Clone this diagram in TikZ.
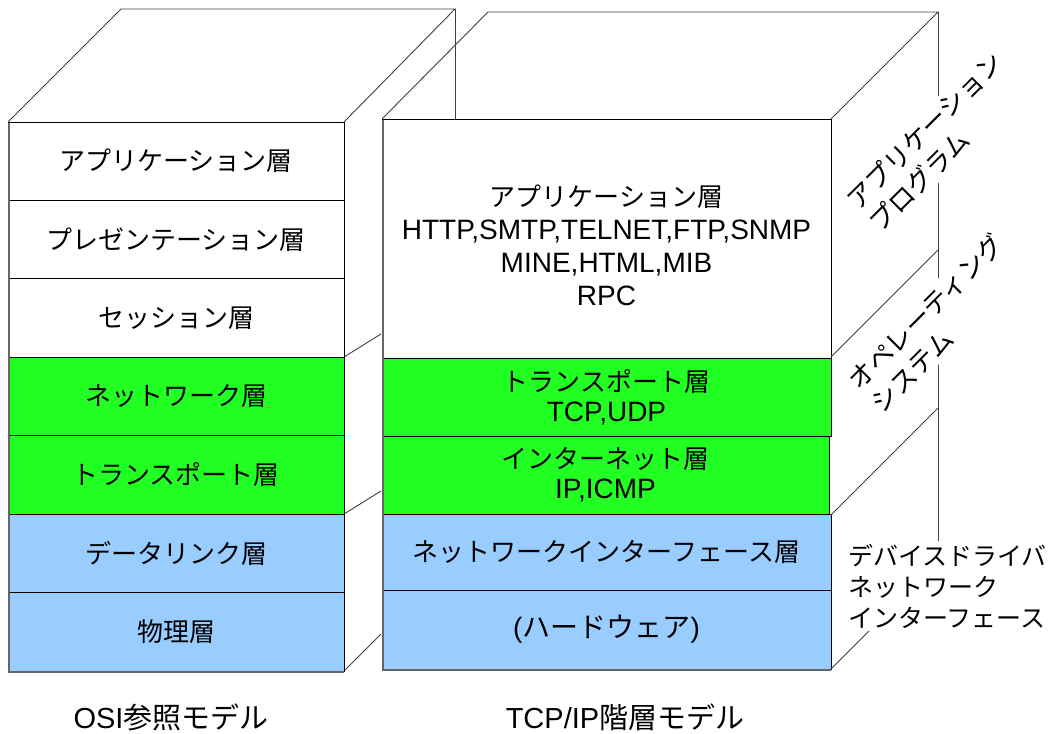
\documentclass[tikz,border=0pt]{standalone}
\usepackage{fontspec}
\setmainfont{Liberation Sans}
\newfontfamily\jp{Noto Sans CJK JP}
\definecolor{lgreen}{RGB}{34,255,34}
\definecolor{lblue}{RGB}{153,204,255}
\begin{document}
\begin{tikzpicture}[x=1pt,y=-1pt,
  edge/.style={draw=black!75,line width=0.9pt},
  layer/.style={draw=black,line width=0.8pt,inner sep=0pt,align=center},
  shadowline/.style={draw=black!60,line width=2pt},
  jt/.style={font=\jp\fontsize{26}{30}\selectfont},
  mixt/.style={font=\fontsize{28}{30}\selectfont,align=center,inner sep=0pt},
  sidelbl/.style={font=\jp\fontsize{26}{32}\selectfont,fill=white,inner sep=3pt,align=left,rotate=45},
  botlbl/.style={font=\fontsize{29}{32}\selectfont,inner sep=0pt,text height=22pt,text depth=2pt,anchor=base}
]
\useasboundingbox (0,0) rectangle (1056,733);
% ---- left box: top face and hidden parts
\draw[edge] (8,122) -- (121,9) -- (455,9) -- (344,122);
\draw[edge] (455,9) -- (455,119);
\draw[edge] (344,357) -- (381,334);
\draw[edge] (344,514) -- (381,491);
\draw[edge] (344,671) -- (381,634);
% ---- left box layers
\node[layer,fill=white,minimum width=336pt,minimum height=78.4pt,jt] (o7) at (176,161.2) {アプリケーション層};
\node[layer,fill=white,minimum width=336pt,minimum height=78.4pt,jt] (o6) at (176,239.6) {プレゼンテーション層};
\node[layer,fill=white,minimum width=336pt,minimum height=78.4pt,jt] (o5) at (176,318.0) {セッション層};
\node[layer,fill=lgreen,minimum width=336pt,minimum height=78.4pt,jt] (o4) at (176,396.5) {ネットワーク層};
\node[layer,fill=lgreen,minimum width=336pt,minimum height=78.4pt,jt] (o3) at (176,474.9) {トランスポート層};
\node[layer,fill=lblue,minimum width=336pt,minimum height=78.4pt,jt] (o2) at (176,553.3) {データリンク層};
\node[layer,fill=lblue,minimum width=336pt,minimum height=78.4pt,jt] (o1) at (176,631.8) {物理層};
\draw[shadowline] (9,123) -- (9,672) -- (344,672);
% ---- right box layers
\node[layer,fill=white,minimum width=449pt,minimum height=239pt] (ta) at (606.5,238.5) {};
\node[mixt,font=\fontsize{28}{33}\selectfont] (tat) at (606.5,245) {{\jp\fontsize{26}{33}\selectfont アプリケーション層}\\HTTP,SMTP,TELNET,FTP,SNMP\\MINE,HTML,MIB\\RPC};
\node[layer,fill=lgreen,minimum width=449pt,minimum height=78pt,font=\fontsize{28}{30}\selectfont] (tt) at (606.5,397) {{\jp\fontsize{26}{30}\selectfont トランスポート層}\\TCP,UDP};
\node[layer,fill=lgreen,minimum width=447pt,minimum height=78pt,font=\fontsize{28}{30}\selectfont] (ti) at (605.5,475) {{\jp\fontsize{26}{30}\selectfont インターネット層}\\IP,ICMP};
\node[layer,fill=lblue,minimum width=449pt,minimum height=76pt,jt] (tn) at (606.5,552) {ネットワークインターフェース層};
\node[layer,fill=lblue,minimum width=449pt,minimum height=79pt,font=\fontsize{28}{30}\selectfont] (th) at (606.5,629.5) {({\jp ハードウェア})};
\draw[shadowline] (383,120) -- (383,670) -- (831,670);
% ---- right box top and right face
\draw[edge] (382,119) -- (488,12) -- (938,12) -- (831,119);
\draw[edge] (938,12) -- (938,562);
\draw[edge] (831,357) -- (938,250);
\draw[edge] (831,515) -- (938,408);
\draw[edge] (831,669) -- (938,562);
% ---- side labels
\node[sidelbl] (lapp) at (936,142) {アプリケーション\\プログラム};
\node[sidelbl] (los) at (937,323) {オペレーティング\\システム};
\node[font=\jp\fontsize{25}{31}\selectfont,fill=white,inner sep=3pt,align=left,anchor=west] (ldev) at (845,586) {デバイスドライバ\\ネットワーク\\インターフェース};
% ---- bottom labels
\node[botlbl] (bosi) at (171,728) {OSI{\jp 参照モデル}};
\node[botlbl] (btcp) at (625,728) {TCP/IP{\jp 階層モデル}};
\end{tikzpicture}
\end{document}
